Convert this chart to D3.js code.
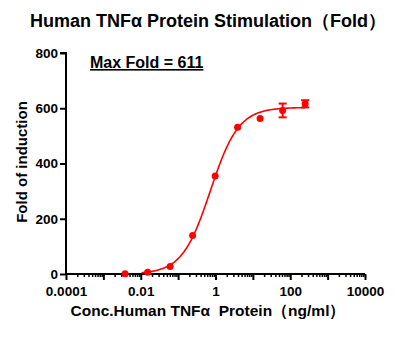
<!DOCTYPE html>
<html><head><meta charset="utf-8">
<script src="https://cdn.jsdelivr.net/npm/d3@7"></script>
<style>body{margin:0;background:#fff}svg{display:block}text{font-family:"Liberation Sans",Arial,sans-serif;font-weight:bold;fill:#000}</style>
</head><body>
<svg id="c" width="400" height="343"></svg>
<script>
const conc = [0.0038, 0.0153, 0.061, 0.244, 0.98, 3.9, 15.6, 62.5, 250];
const fold = [1, 6, 27, 139, 355, 531, 563, 592, 616];
const errs = [0, 0, 0, 0, 0, 0, 0, 25, 13];
const fitParams = {bottom: 0, top: 603, ec50: 0.73, hill: 1.15, from: 0.0105, to: 250};
const yTicks = [0, 200, 400, 600, 800];
const xTicks = [0.0001, 0.01, 1, 100, 10000];
const xTickLabels = ["0.0001", "0.01", "1", "100", "10000"];

const svg = d3.select("#c");
const x = d3.scaleLog().domain([1e-4, 1e4]).range([66, 365]);
const y = d3.scaleLinear().domain([0, 800]).range([274, 53]);
const red = "#ff0000";

svg.append("text").attr("x", 208).attr("y", 27).attr("text-anchor", "middle")
  .style("font-size", "18px").text("Human TNFα Protein Stimulation（Fold）");

// y axis
const ya = svg.append("g").attr("transform", "translate(66,0)")
  .call(d3.axisLeft(y).tickValues(yTicks).tickSize(6).tickPadding(2));
ya.select(".domain").attr("stroke-width", 2).attr("d", `M-6,${y(800)}H0V${y(0)}`);
ya.selectAll(".tick line").attr("stroke-width", 2);
ya.selectAll("text").style("font-size", "13.5px").style("font-family", "Liberation Sans, Arial").style("font-weight", "bold");

// x axis
const minor = [];
for (let e = -4; e < 4; e++) for (let m = 2; m <= 9; m++) minor.push(m * Math.pow(10, e));
const decades = d3.range(-4, 5).map(e => Math.pow(10, e));
const xg = svg.append("g").attr("transform", "translate(0,274)");
xg.append("g").call(d3.axisBottom(x).tickValues(minor).tickSize(3).tickFormat(""))
  .call(g => g.select(".domain").remove()).selectAll("line").attr("stroke-width", 1.5);
xg.append("g").call(d3.axisBottom(x).tickValues(decades).tickSize(6).tickFormat(""))
  .call(g => g.select(".domain").attr("stroke-width", 2).attr("d", `M${x(1e-4)},0H${x(1e4)}`))
  .selectAll("line").attr("stroke-width", 2);
xg.append("g").call(d3.axisBottom(x).tickValues(xTicks).tickSize(0).tickPadding(12)
  .tickFormat((d, i) => xTickLabels[i]))
  .call(g => g.select(".domain").remove())
  .selectAll("text").style("font-size", "13.5px").style("font-family", "Liberation Sans, Arial").style("font-weight", "bold");

svg.append("text").attr("x", 208).attr("y", 316).attr("text-anchor", "middle")
  .style("font-size", "15.5px").style("white-space", "pre").text("Conc.Human TNFα  Protein（ng/ml）");
svg.append("text").attr("transform", "translate(27,162) rotate(-90)").attr("text-anchor", "middle")
  .style("font-size", "15px").text("Fold of induction");

svg.append("text").attr("x", 90).attr("y", 68).style("font-size", "16px")
  .attr("text-decoration", "underline").text("Max Fold = 611");

// fit curve
const f = c => fitParams.bottom + (fitParams.top - fitParams.bottom) / (1 + Math.pow(fitParams.ec50 / c, fitParams.hill));
const curvePts = d3.range(0, 201).map(i => Math.exp(Math.log(fitParams.from) + i / 200 * (Math.log(fitParams.to) - Math.log(fitParams.from))));
svg.append("path").datum(curvePts).attr("fill", "none").attr("stroke", red).attr("stroke-width", 1.6)
  .attr("d", d3.line().x(c => x(c)).y(c => y(f(c))));

const data = conc.map((c, i) => ({c, v: fold[i], e: errs[i]}));
const eb = svg.append("g").attr("stroke", red).attr("stroke-width", 2);
data.filter(d => d.e > 0).forEach(d => {
  eb.append("line").attr("x1", x(d.c)).attr("x2", x(d.c)).attr("y1", y(d.v - d.e)).attr("y2", y(d.v + d.e));
  eb.append("line").attr("x1", x(d.c) - 4).attr("x2", x(d.c) + 4).attr("y1", y(d.v - d.e)).attr("y2", y(d.v - d.e));
  eb.append("line").attr("x1", x(d.c) - 4).attr("x2", x(d.c) + 4).attr("y1", y(d.v + d.e)).attr("y2", y(d.v + d.e));
});
svg.append("g").selectAll("circle").data(data).join("circle")
  .attr("cx", d => x(d.c)).attr("cy", d => y(d.v)).attr("r", 3.5).attr("fill", red);
</script>
</body></html>
